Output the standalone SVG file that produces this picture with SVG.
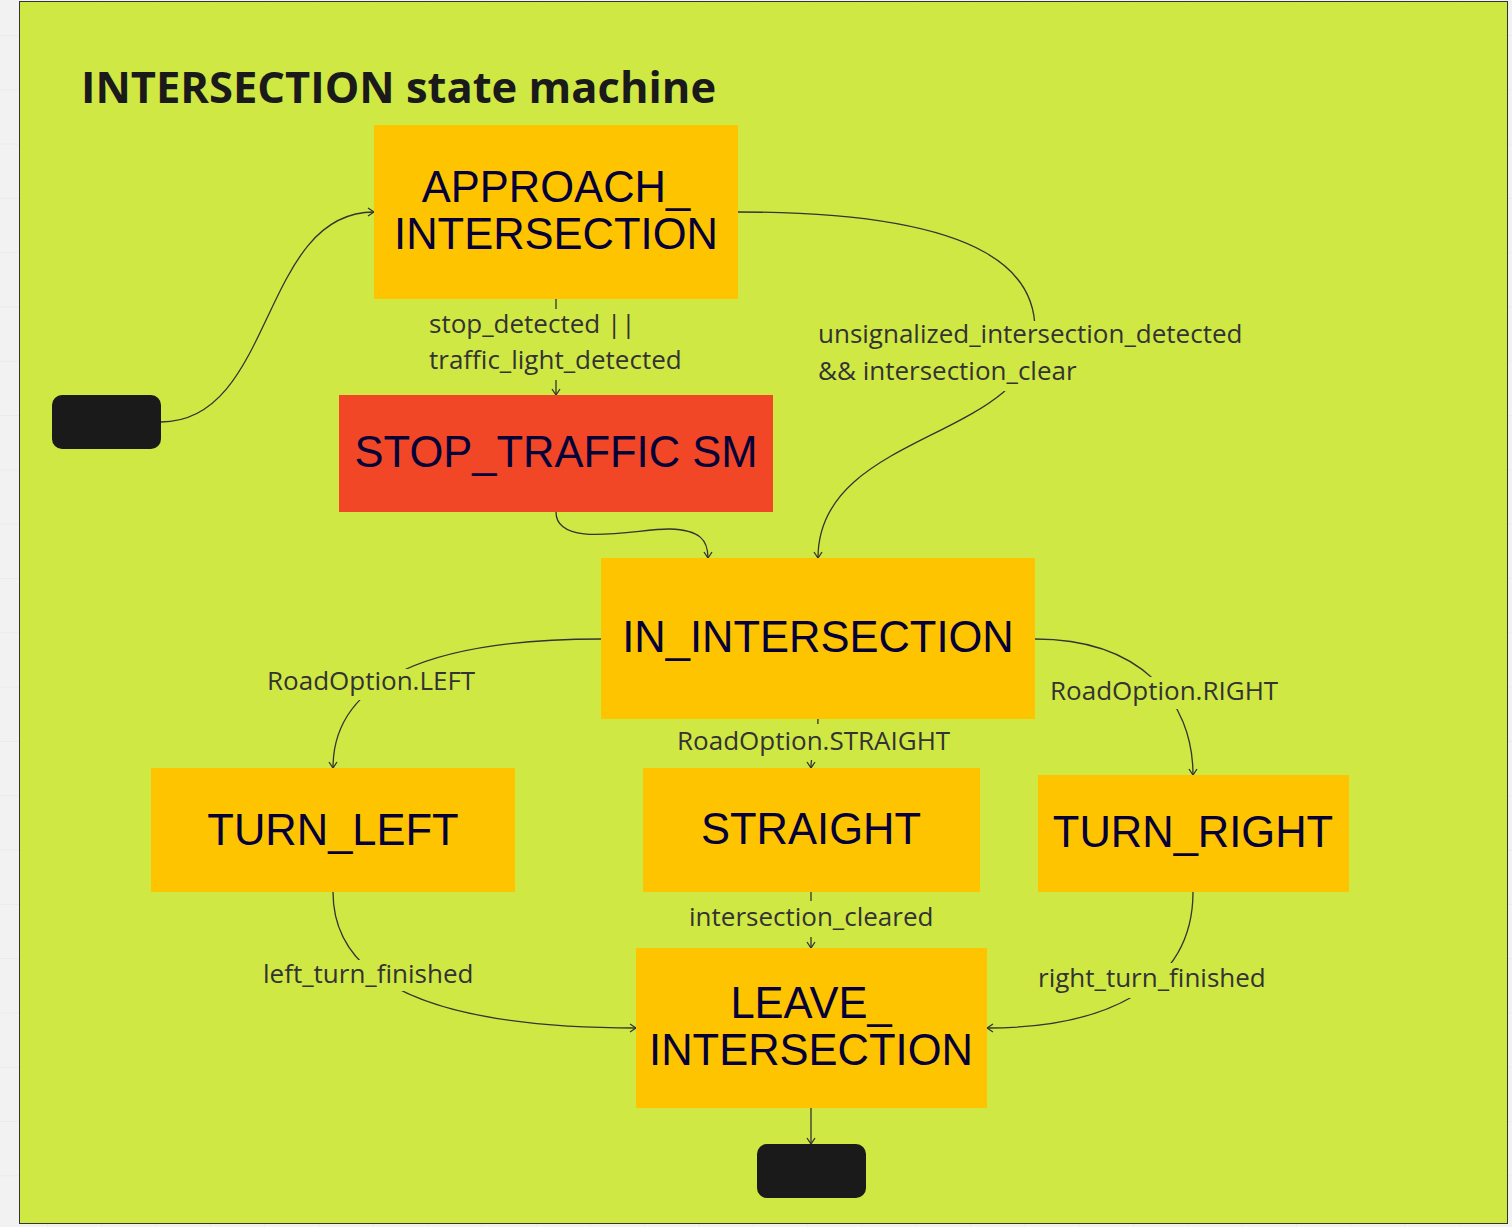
<svg xmlns="http://www.w3.org/2000/svg" width="1512" height="1227" viewBox="0 0 1512 1227">
<defs>
<pattern id="grid" x="47" y="35" width="54.3" height="54.3" patternUnits="userSpaceOnUse">
<path d="M0,0 H54.3 M0,0 V54.3" stroke="#e4e4e4" stroke-width="1" fill="none"/>
</pattern>
<marker id="arr" viewBox="0 0 10 10" refX="9" refY="5" markerWidth="10" markerHeight="10" markerUnits="userSpaceOnUse" orient="auto">
<path d="M3,1 L9,5 L3,9" fill="none" stroke="#333" stroke-width="1.3"/>
</marker>
</defs>
<style>
.node rect{stroke:none}
.ntext{font-family:"Liberation Sans",Arial,sans-serif;font-size:43.5px;fill:#050038;text-anchor:middle}
.lbl{font-family:"Open Sans",sans-serif;font-size:26px;fill:#333333}
.lbg{fill:#cfe843}
.conn path{fill:none;stroke:#333;stroke-width:1.3;marker-end:url(#arr)}
</style>
<rect x="0" y="0" width="1512" height="1227" fill="#f2f2f2"/>
<rect x="0" y="0" width="1512" height="1227" fill="url(#grid)"/>
<rect x="19.5" y="1.5" width="1488" height="1222" fill="#cfe843" stroke="#333" stroke-width="1"/>
<text x="81" y="103" font-family="Open Sans, sans-serif" font-weight="bold" font-size="43.5" fill="#1a1a1a">INTERSECTION state machine</text>

<g id="connectors" class="conn">
<path d="M161,422 C275,422 260,212 374,212"/>
<path d="M556,299 L556,395"/>
<path d="M738,212 C1000,212 1035,280 1035,330 C1035,440 818,430 818,558"/>
<path d="M556,512 C556,550 640,528 670,529 C700,530 708,540 708,558"/>
<path d="M601,639 C430,639 333,680 333,768"/>
<path d="M1035,639 C1140,639 1193,700 1193,775"/>
<path d="M818,719 C818,745 811,745 811,768"/>
<path d="M811,892 L811,948"/>
<path d="M333,892 C333,990 450,1028 636,1028"/>
<path d="M1193,892 C1193,990 1100,1028 987,1028"/>
<path d="M811,1108 L811,1144"/>
</g>

<g id="labels">
<rect class="lbg" x="424" y="309" width="264" height="71"/>
<text class="lbl" x="429" y="333">stop_detected ||</text>
<text class="lbl" x="429" y="369">traffic_light_detected</text>
<rect class="lbg" x="812" y="321" width="438" height="70"/>
<text class="lbl" x="818" y="343">unsignalized_intersection_detected</text>
<text class="lbl" x="818" y="380">&amp;&amp; intersection_clear</text>
<rect class="lbg" x="262" y="669" width="218" height="31"/>
<text class="lbl" x="267" y="690">RoadOption.LEFT</text>
<rect class="lbg" x="1045" y="677" width="238" height="32"/>
<text class="lbl" x="1050" y="700">RoadOption.RIGHT</text>
<rect class="lbg" x="672" y="724" width="284" height="36"/>
<text class="lbl" x="677" y="750">RoadOption.STRAIGHT</text>
<rect class="lbg" x="684" y="901" width="253" height="36"/>
<text class="lbl" x="689" y="926">intersection_cleared</text>
<rect class="lbg" x="258" y="960" width="220" height="31"/>
<text class="lbl" x="263" y="983">left_turn_finished</text>
<rect class="lbg" x="1033" y="963" width="237" height="35"/>
<text class="lbl" x="1038" y="987">right_turn_finished</text>
</g>

<g id="start" class="node"><rect x="52" y="395" width="109" height="54" rx="10" fill="#1a1a1a"/></g>
<g id="end" class="node"><rect x="757" y="1144" width="109" height="54" rx="10" fill="#1a1a1a"/></g>

<g id="approach" class="node">
<rect x="374" y="125" width="364" height="174" fill="#ffc400"/>
<text class="ntext" x="556" y="202">APPROACH_</text>
<text class="ntext" x="556" y="249">INTERSECTION</text>
</g>
<g id="stop_traffic" class="node">
<rect x="339" y="395" width="434" height="117" fill="#f24726"/>
<text class="ntext" x="556" y="467">STOP_TRAFFIC SM</text>
</g>
<g id="in_intersection" class="node">
<rect x="601" y="558" width="434" height="161" fill="#ffc400"/>
<text class="ntext" x="818" y="652">IN_INTERSECTION</text>
</g>
<g id="turn_left" class="node">
<rect x="151" y="768" width="364" height="124" fill="#ffc400"/>
<text class="ntext" x="333" y="845">TURN_LEFT</text>
</g>
<g id="straight" class="node">
<rect x="643" y="768" width="337" height="124" fill="#ffc400"/>
<text class="ntext" x="811" y="844">STRAIGHT</text>
</g>
<g id="turn_right" class="node">
<rect x="1038" y="775" width="311" height="117" fill="#ffc400"/>
<text class="ntext" x="1193" y="847">TURN_RIGHT</text>
</g>
<g id="leave" class="node">
<rect x="636" y="948" width="351" height="160" fill="#ffc400"/>
<text class="ntext" x="811" y="1018">LEAVE_</text>
<text class="ntext" x="811" y="1065">INTERSECTION</text>
</g>
</svg>
